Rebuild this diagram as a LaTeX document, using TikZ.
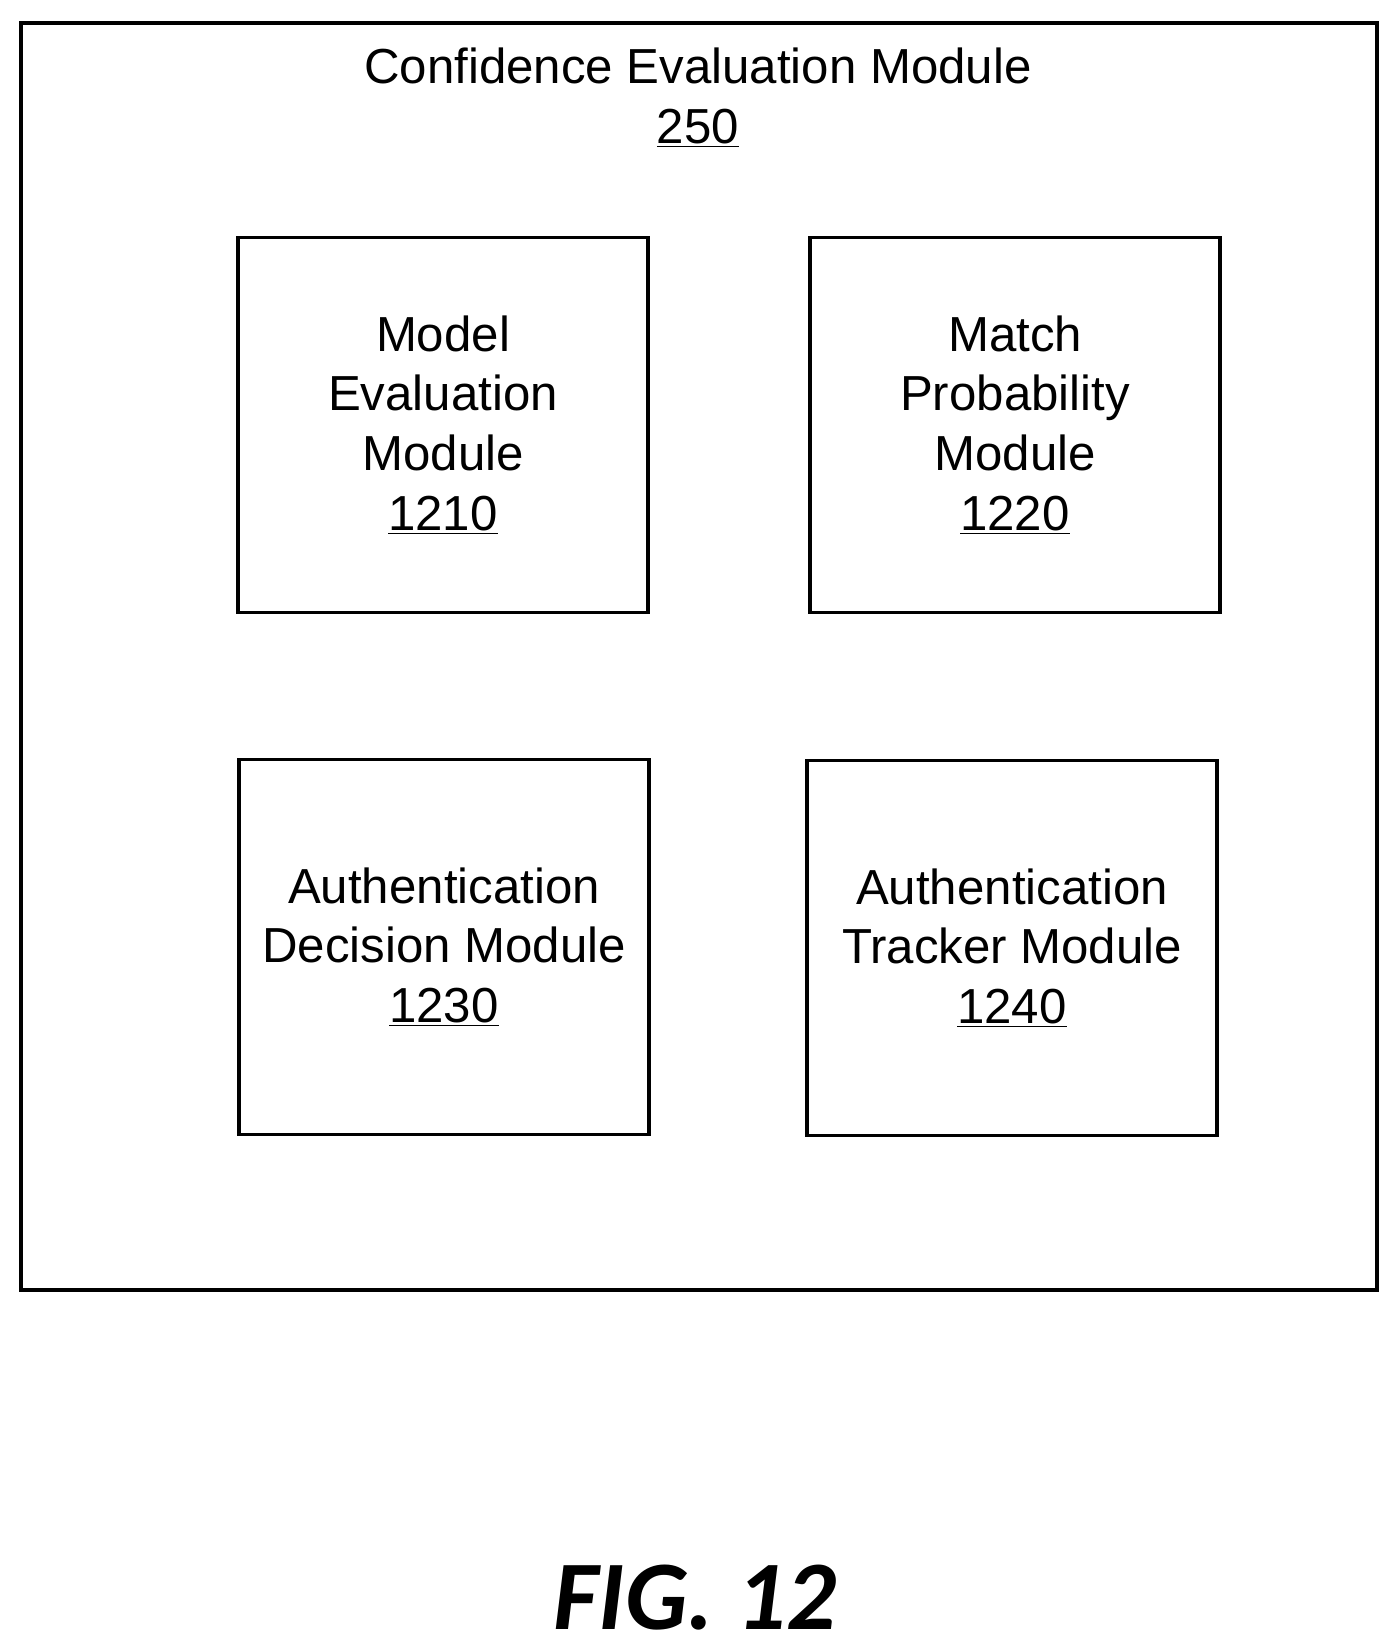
\documentclass[tikz,border=0pt]{standalone}
\usepackage{fontspec}
\setmainfont{Liberation Sans}
\newfontfamily\figfont{Carlito}

\begin{document}
\begin{tikzpicture}[x=0.02cm, y=-0.02cm,
    module/.style = {draw, line width=2pt, minimum width=8.2cm, minimum height=7.5cm, align=center, font=\fontsize{28}{34}\selectfont},
    label/.style = {align=center, font=\fontsize{28}{34}\selectfont}]
    \useasboundingbox (0,0) rectangle (1395,1640);
    \draw[line width=2pt] (21,23) rectangle (1377,1290);

    \node[label] (title) at (698,98) {Confidence Evaluation Module\\\underline{250}};

    \node[module] (model eval) at (443,425) {Model\\Evaluation\\Module\\\underline{1210}};
    \node[module] (match prob) at (1015,425) {Match\\Probability\\Module\\\underline{1220}};
    \node[module] (auth decision) at (444,947) {Authentication\\Decision Module\\\underline{1230}};
    \node[module] (auth tracker) at (1012,948) {Authentication\\Tracker Module\\\underline{1240}};

    \node[font=\figfont\bfseries\itshape\fontsize{56}{64}\selectfont] (fig) at (695,1598) {FIG. 12};
\end{tikzpicture}
\end{document}
